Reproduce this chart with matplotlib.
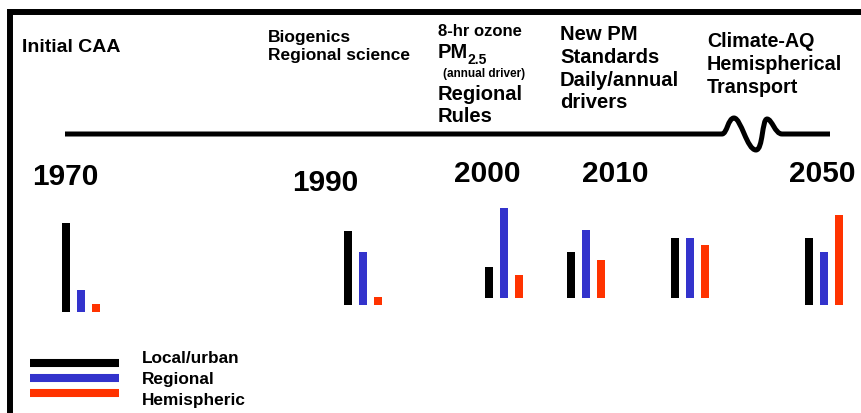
import matplotlib
matplotlib.use("Agg")
import matplotlib.pyplot as plt
from matplotlib.path import Path
from matplotlib.patches import PathPatch

# ---------------- data ----------------
group_labels = ["1970", "1990", "2000", "2010", "", "2050"]
series_names = ["Local/urban", "Regional", "Hemispheric"]
local_vals = [89, 74, 31, 46, 60, 67]
regional_vals = [22, 53, 90, 68, 60, 53]
hemispheric_vals = [8, 8, 23, 38, 53, 90]

milestone_initial = ["Initial CAA"]
milestone_1990 = ["Biogenics", "Regional science"]
milestone_2000_top = ["8-hr ozone"]
milestone_2000_pm = ["PM", "2.5", "(annual driver)"]
milestone_2000_bottom = ["Regional", "Rules"]
milestone_2010 = ["New PM", "Standards", "Daily/annual", "drivers"]
milestone_2050 = ["Climate-AQ", "Hemispherical", "Transport"]

# ---------------- layout ----------------
W, H = 861, 413
BLACK = "#000000"
BLUE = "#3333CC"
RED = "#FF3300"
colors = [BLACK, BLUE, RED]
FONT = "Liberation Sans"

fig = plt.figure(figsize=(W / 100, H / 100), dpi=100)
fig.patch.set_facecolor("white")
ax = fig.add_axes([0, 0, 1, 1])
ax.set_xlim(0, W)
ax.set_ylim(H, 0)
ax.axis("off")

# frame (left and top)
ax.plot([10, 10, W + 5], [H + 5, 12, 12], color=BLACK, lw=4.3,
        solid_joinstyle="miter", solid_capstyle="butt")

# timeline with squiggle
verts = [(65, 134), (722, 134),
         (727, 134), (728, 118), (734, 118),
         (741, 118), (747, 150), (756, 150),
         (763, 150), (762, 119), (767, 119),
         (772, 119), (775, 134), (782, 134),
         (830, 134)]
codes = [Path.MOVETO, Path.LINETO,
         Path.CURVE4, Path.CURVE4, Path.CURVE4,
         Path.CURVE4, Path.CURVE4, Path.CURVE4,
         Path.CURVE4, Path.CURVE4, Path.CURVE4,
         Path.CURVE4, Path.CURVE4, Path.CURVE4,
         Path.LINETO]
ax.add_patch(PathPatch(Path(verts, codes), facecolor="none", edgecolor=BLACK,
                       lw=3.6, capstyle="butt", joinstyle="round"))


def txt(x, y, s, size, **kw):
    ax.text(x, y, s, fontsize=size, fontweight="bold", family=FONT,
            ha=kw.pop("ha", "left"), va="baseline", color=BLACK, **kw)


# milestone texts
txt(22, 52, milestone_initial[0], 14)
for s, yb in zip(milestone_1990, [42, 60]):
    txt(268, yb, s, 12.5)
txt(438, 36, milestone_2000_top[0], 12)
txt(438, 58, milestone_2000_pm[0], 14.5)
txt(468, 64, milestone_2000_pm[1], 10)
txt(443, 77, milestone_2000_pm[2], 8.5)
for s, yb in zip(milestone_2000_bottom, [100, 122]):
    txt(438, yb, s, 14.5)
for s, yb in zip(milestone_2010, [40, 63, 86, 108]):
    txt(560, yb, s, 14.6)
for s, yb in zip(milestone_2050, [47, 70, 93]):
    txt(707, yb, s, 14.2)

# year labels
year_pos = {"1970": (32, 185), "1990": (292, 191), "2000": (454, 182),
            "2010": (582, 182), "2050": (789, 182)}
for lab in group_labels:
    if lab:
        x, y = year_pos[lab]
        txt(x, y, lab, 21.5)

# bars
group_x = [62, 344, 485, 567, 671, 805]
baselines = [312, 305, 298, 298, 298, 305]
bar_w = 8
step = 15
all_vals = [local_vals, regional_vals, hemispheric_vals]
for si, vals in enumerate(all_vals):
    xs = [gx + si * step + bar_w / 2 for gx in group_x]
    ax.bar(xs, [-v for v in vals], bottom=baselines, width=bar_w,
           color=colors[si], edgecolor="none", linewidth=0)

# legend
leg_y = [363, 378, 393]
text_y = [363, 384, 405]
for name, c, ly, ty in zip(series_names, colors, leg_y, text_y):
    ax.plot([30, 119], [ly, ly], color=c, lw=5.8, solid_capstyle="butt")
    txt(142, ty, name, 12.4)

fig.savefig("out.png", dpi=100, facecolor="white")
